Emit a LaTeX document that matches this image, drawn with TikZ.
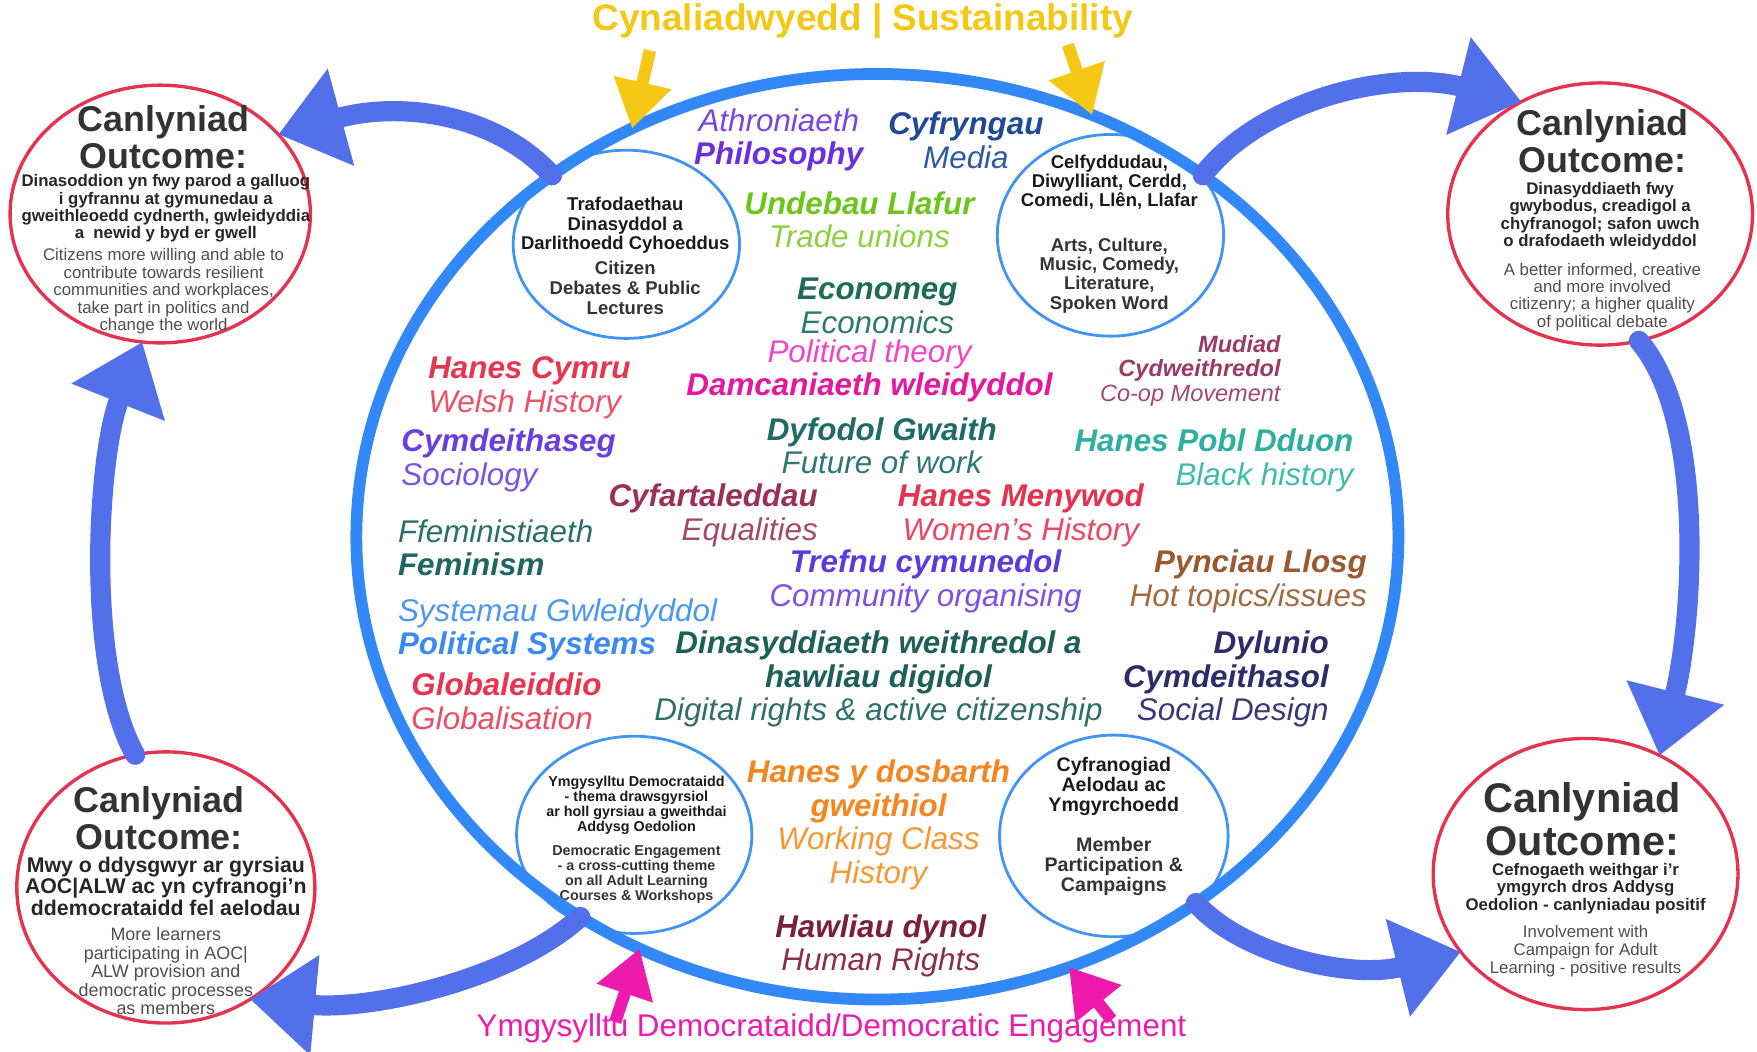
\documentclass[tikz,border=0pt]{standalone}
\usepackage{fontspec}
\setmainfont{Liberation Sans}
\usetikzlibrary{arrows.meta,shapes.geometric}

\definecolor{ringblue}{HTML}{3388F7}
\definecolor{bubbleblue}{HTML}{3F94F5}
\definecolor{flowblue}{HTML}{5270EA}
\definecolor{outred}{HTML}{E5324F}
\definecolor{sunyellow}{HTML}{F4C815}
\definecolor{engpink}{HTML}{EE1AAE}
\definecolor{titlegray}{HTML}{333333}
\definecolor{welgray}{HTML}{262626}
\definecolor{enggray}{HTML}{4D4D4D}
\definecolor{bubwel}{HTML}{1A1A1A}
\definecolor{bubeng}{HTML}{333333}
% topic colours: B = bold line, E = plain line
\definecolor{philB}{HTML}{6B2FE0}\definecolor{philE}{HTML}{7A45E6}
\definecolor{medB}{HTML}{1F4A96}\definecolor{medE}{HTML}{2C5AA6}
\definecolor{uniB}{HTML}{6CC51C}\definecolor{uniE}{HTML}{8CD13C}
\definecolor{ecoB}{HTML}{1F6B55}\definecolor{ecoE}{HTML}{2F7A66}
\definecolor{polB}{HTML}{E6179F}\definecolor{polE}{HTML}{F045C8}
\definecolor{welB}{HTML}{E8354F}\definecolor{welE}{HTML}{EE5066}
\definecolor{socB}{HTML}{6A3DE2}\definecolor{socE}{HTML}{7B52E8}
\definecolor{futB}{HTML}{1F6B68}\definecolor{futE}{HTML}{2F7874}
\definecolor{coopB}{HTML}{9B3A66}\definecolor{coopE}{HTML}{A04A70}
\definecolor{blkB}{HTML}{2EAFA0}\definecolor{blkE}{HTML}{3DBDAD}
\definecolor{eqB}{HTML}{9A2F57}\definecolor{eqE}{HTML}{A4486A}
\definecolor{womB}{HTML}{E8304F}\definecolor{womE}{HTML}{EE4563}
\definecolor{femB}{HTML}{1F6663}\definecolor{femE}{HTML}{2A6F6A}
\definecolor{treB}{HTML}{5A3BE0}\definecolor{treE}{HTML}{7D4FE8}
\definecolor{hotB}{HTML}{9A592E}\definecolor{hotE}{HTML}{A06A40}
\definecolor{sysB}{HTML}{3A8AF0}\definecolor{sysE}{HTML}{4A98F2}
\definecolor{digB}{HTML}{1F5F5A}\definecolor{digE}{HTML}{2F6F6A}
\definecolor{desB}{HTML}{2E2B6B}\definecolor{desE}{HTML}{3B3878}
\definecolor{gloB}{HTML}{E8344F}\definecolor{gloE}{HTML}{EE4A62}
\definecolor{wrkB}{HTML}{F5861F}\definecolor{wrkE}{HTML}{F7972F}
\definecolor{hrB}{HTML}{7A1F3C}\definecolor{hrE}{HTML}{8A2E4A}

\begin{document}
\begin{tikzpicture}[x=1pt, y=-1pt,
  ring/.style={ellipse, draw=ringblue, line width=10.5pt, inner sep=0pt, outer sep=0pt},
  bubble/.style={ellipse, draw=bubbleblue, line width=2.5pt, inner sep=0pt, outer sep=0pt},
  outcome/.style={ellipse, draw=outred, line width=3pt, inner sep=0pt, outer sep=0pt},
  bubtext/.style={align=center, inner sep=0pt, text=bubwel, font=\fontsize{16.5}{17.5}\selectfont\bfseries},
  otitle/.style={align=center, inner sep=0pt, text=titlegray, font=\fontsize{32}{33}\selectfont\bfseries},
  owel/.style={align=center, inner sep=0pt, text=welgray, font=\fontsize{15}{15.5}\selectfont\bfseries},
  oeng/.style={align=center, inner sep=0pt, text=enggray, font=\fontsize{15}{15.5}\selectfont},
  topic/.style={align=center, inner sep=0pt, font=\fontsize{28}{30}\selectfont\itshape},
  flow/.style={draw=flowblue, line width=18pt, line cap=round, -{Triangle[length=58pt,width=86pt]}},
  pointer/.style={line width=11pt, -{Triangle[length=42pt,width=50pt]}}
]
\useasboundingbox (0,0) rectangle (1568,938.8);

% outcomes
\node[outcome, minimum width=268pt, minimum height=230pt] (o1) at (143,191) {};
\node[otitle] (o1t) at (146,122) {Canlyniad\\Outcome:};
\node[owel] (o1w) at (148,186) {Dinasoddion yn fwy parod a galluog\\i gyfrannu at gymunedau a\\gweithleoedd cydnerth, gwleidyddia\\a \ newid y byd er gwell};
\node[oeng] (o1e) at (146,260) {Citizens more willing and able to\\contribute towards resilient\\communities and workplaces,\\take part in politics and\\change the world};

\node[outcome, minimum width=272pt, minimum height=234pt] (o2) at (1428,191) {};
\node[otitle] (o2t) at (1430,126) {Canlyniad\\Outcome:};
\node[owel] (o2w) at (1428,193) {Dinasyddiaeth fwy\\gwybodus, creadigol a\\chyfranogol; safon uwch\\o drafodaeth wleidyddol};
\node[oeng] (o2e) at (1430,265) {A better informed, creative\\and more involved\\citizenry; a higher quality\\of political debate};

\node[outcome, minimum width=272pt, minimum height=242pt] (o3) at (1415,780) {};
\node[otitle, font=\fontsize{37}{38}\selectfont\bfseries] (o3t) at (1412,731) {Canlyniad\\Outcome:};
\node[owel, font=\fontsize{15}{16}\selectfont\bfseries] (o3w) at (1415,793) {Cefnogaeth weithgar i'r\\ymgyrch dros Addysg\\Oedolion - canlyniadau positif};
\node[oeng, font=\fontsize{15}{16}\selectfont] (o3e) at (1415,849) {Involvement with\\Campaign for Adult\\Learning - positive results};

\node[outcome, minimum width=266pt, minimum height=242pt] (o4) at (148,792) {};
\node[otitle] (o4t) at (142,730) {Canlyniad\\Outcome:};
\node[owel, font=\fontsize{19}{19.5}\selectfont\bfseries] (o4w) at (148,791) {Mwy o ddysgwyr ar gyrsiau\\AOC|ALW ac yn cyfranogi'n\\ddemocrataidd fel aelodau};
\node[oeng, font=\fontsize{16}{16.5}\selectfont] (o4e) at (148,867) {More learners\\participating in AOC|\\ALW provision and\\democratic processes\\as members};

% bubbles
\node[bubble, minimum width=202pt, minimum height=168pt] (c1) at (559,218) {};
\node[bubtext] (c1w) at (558,201) {Trafodaethau\\Dinasyddol a\\Darlithoedd Cyhoeddus};
\node[bubtext, text=bubeng] (c1e) at (558,257) {Citizen\\Debates \& Public\\Lectures};

\node[bubble, minimum width=202pt, minimum height=180pt] (c2) at (991,210) {};
\node[bubtext, font=\fontsize{16.5}{17}\selectfont\bfseries] (c2w) at (990,163) {Celfyddudau,\\Diwylliant, Cerdd,\\Comedi, Llên, Llafar};
\node[bubtext, text=bubeng, font=\fontsize{16.5}{17}\selectfont\bfseries] (c2e) at (990,246) {Arts, Culture,\\Music, Comedy,\\Literature,\\Spoken Word};

\node[bubble, minimum width=210pt, minimum height=176pt] (c3) at (566,745) {};
\node[bubtext, font=\fontsize{12.8}{13.3}\selectfont\bfseries] (c3w) at (568,719) {Ymgysylltu Democrataidd\\- thema drawsgyrsiol\\ar holl gyrsiau a gweithdai\\Addysg Oedolion};
\node[bubtext, text=bubeng, font=\fontsize{12.8}{13.3}\selectfont\bfseries] (c3e) at (568,780) {Democratic Engagement\\- a cross-cutting theme\\on all Adult Learning\\Courses \& Workshops};

\node[bubble, minimum width=204pt, minimum height=180pt] (c4) at (994,746) {};
\node[bubtext, font=\fontsize{17.5}{18}\selectfont\bfseries] (c4w) at (994,702) {Cyfranogiad\\Aelodau ac\\Ymgyrchoedd};
\node[bubtext, text=bubeng, font=\fontsize{17.5}{18}\selectfont\bfseries] (c4e) at (994,773) {Member\\Participation \&\\Campaigns};

% main ring
\node[ring, minimum width=930pt, minimum height=826pt] (main) at (783,479) {};

% topics
\node[topic, text=philE] (philo) at (695,125) {Athroniaeth\\\textcolor{philB}{\bfseries Philosophy}};
\node[topic, text=medE] (media) at (862,125) {\textcolor{medB}{\bfseries Cyfryngau}\\Media};
\node[topic, text=uniE] (union) at (767,196) {\textcolor{uniB}{\bfseries Undebau Llafur}\\Trade unions};
\node[topic, text=ecoE] (econ) at (783,273) {\textcolor{ecoB}{\bfseries Economeg}\\Economics};
\node[topic, text=polE] (theory) at (776,331) {Political theory\\\textcolor{polB}{\bfseries Damcaniaeth wleidyddol}};
\node[topic, text=welE, align=left, anchor=west] (wales) at (382,346) {\textcolor{welB}{\bfseries Hanes Cymru}\\Welsh History};
\node[topic, text=socE, align=left, anchor=west] (socio) at (358,411) {\textcolor{socB}{\bfseries Cymdeithaseg}\\Sociology};
\node[topic, text=futE] (future) at (787,398) {\textcolor{futB}{\bfseries Dyfodol Gwaith}\\Future of work};
\node[topic, text=coopE, align=right, anchor=east, font=\fontsize{21}{22}\selectfont\itshape] (coop) at (1143,331) {\textcolor{coopB}{\bfseries Mudiad}\\\textcolor{coopB}{\bfseries Cydweithredol}\\Co-op Movement};
\node[topic, text=blkE, align=right, anchor=east] (black) at (1208,411) {\textcolor{blkB}{\bfseries Hanes Pobl Dduon}\\Black history};
\node[topic, text=eqE, align=right, anchor=east] (equal) at (730,460) {\textcolor{eqB}{\bfseries Cyfartaleddau}\\Equalities};
\node[topic, text=womE] (women) at (911,460) {\textcolor{womB}{\bfseries Hanes Menywod}\\Women's History};
\node[topic, text=femE, align=left, anchor=west] (fem) at (355,489) {Ffeministiaeth\\\textcolor{femB}{\bfseries Feminism}};
\node[topic, text=treE] (organise) at (826,519) {\textcolor{treB}{\bfseries Trefnu cymunedol}\\Community organising};
\node[topic, text=hotE, align=right, anchor=east] (hot) at (1220,519) {\textcolor{hotB}{\bfseries Pynciau Llosg}\\Hot topics/issues};
\node[topic, text=sysE, align=left, anchor=west] (systems) at (355,562) {Systemau Gwleidyddol\\\textcolor{sysB}{\bfseries Political Systems}};
\node[topic, text=digE] (digital) at (784,606) {\textcolor{digB}{\bfseries Dinasyddiaeth weithredol a}\\\textcolor{digB}{\bfseries hawliau digidol}\\Digital rights \& active citizenship};
\node[topic, text=desE, align=right, anchor=east] (design) at (1186,606) {\textcolor{desB}{\bfseries Dylunio}\\\textcolor{desB}{\bfseries Cymdeithasol}\\Social Design};
\node[topic, text=gloE, align=left, anchor=west] (global) at (367,626) {\textcolor{gloB}{\bfseries Globaleiddio}\\Globalisation};
\node[topic, text=wrkE] (working) at (784,736) {\textcolor{wrkB}{\bfseries Hanes y dosbarth}\\\textcolor{wrkB}{\bfseries gweithiol}\\Working Class\\History};
\node[topic, text=hrE] (rights) at (786,844) {\textcolor{hrB}{\bfseries Hawliau dynol}\\Human Rights};

% cycle arrows
\draw[flow] (main.132) .. controls +(-50,-55) and +(110,-30) .. (o1.34);
\draw[flow] (main.48) .. controls +(50,-65) and +(-120,-30) .. (o2.125);
\draw[flow] (o2.287) .. controls +(60,70) and +(30,-120) .. (o3.58);
\draw[flow] (main.311) .. controls +(40,45) and +(-100,25) .. (o3.212);
\draw[flow] (main.232) .. controls +(-60,55) and +(110,10) .. (o4.307);
\draw[flow] (o4.103) .. controls +(-45,-80) and +(-40,100) .. (o1.262);

% titles and pointers
\node[font=\fontsize{33}{35}\selectfont\bfseries, text=sunyellow] (sus) at (770,19) {Cynaliadwyedd | Sustainability};
\node[font=\fontsize{28}{30}\selectfont, text=engpink] (dem) at (742,918) {Ymgysylltu Democrataidd/Democratic Engagement};
\coordinate (sun1) at (580,45);
\coordinate (sun2) at (953,40);
\coordinate (dem1) at (549,912);
\coordinate (dem2) at (992,910);
\draw[pointer, draw=sunyellow] (sun1) -- (main.121);
\draw[pointer, draw=sunyellow] (sun2) -- (main.63);
\draw[pointer, draw=engpink] (dem1) -- (main.240);
\draw[pointer, draw=engpink] (dem2) -- (main.294);
\end{tikzpicture}
\end{document}
